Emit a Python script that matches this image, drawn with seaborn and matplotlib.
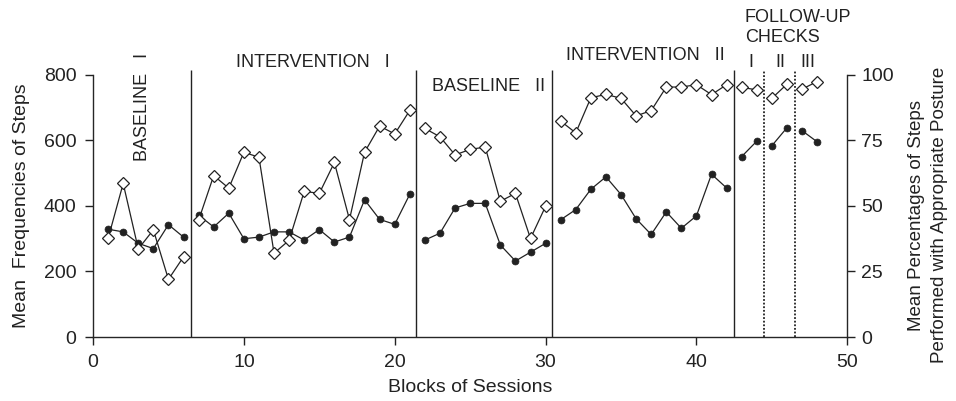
import pandas as pd
import matplotlib.pyplot as plt
import seaborn as sns

# phases and the blocks of sessions in each
phase_names = ["Baseline I", "Intervention I", "Baseline II", "Intervention II",
               "Follow-up I", "Follow-up II", "Follow-up III"]
phase_sessions = [
    [1, 2, 3, 4, 5, 6],
    [7, 8, 9, 10, 11, 12, 13, 14, 15, 16, 17, 18, 19, 20, 21],
    [22, 23, 24, 25, 26, 27, 28, 29, 30],
    [31, 32, 33, 34, 35, 36, 37, 38, 39, 40, 41, 42],
    [43, 44],
    [45, 46],
    [47, 48],
]

# mean frequencies of steps (filled circles, left axis)
steps = [
    [329, 321, 286, 270, 343, 305],
    [372, 336, 378, 300, 305, 321, 321, 296, 328, 290, 305, 419, 359, 344, 436],
    [296, 317, 394, 408, 408, 281, 232, 259, 286],
    [358, 389, 451, 489, 435, 361, 313, 382, 332, 370, 497, 455],
    [551, 598],
    [584, 639],
    [630, 596],
]

# mean percentage with appropriate posture (open diamonds, right axis)
posture = [
    [37.6, 58.6, 33.6, 40.9, 22.0, 30.6],
    [44.6, 61.6, 56.8, 70.5, 68.6, 32.0, 36.9, 55.6, 54.8, 66.6, 44.8, 70.5, 80.5, 77.5, 86.5],
    [79.6, 76.4, 69.5, 71.6, 72.5, 51.8, 54.8, 37.6, 49.9],
    [82.4, 77.9, 91.3, 92.6, 91.1, 84.4, 86.4, 95.4, 95.4, 96.3, 92.5, 96.3],
    [95.3, 94.3],
    [91.1, 96.5],
    [94.6, 97.5],
]

# phase change lines
solid_lines = [6.5, 21.4, 30.4, 42.5]
dotted_lines = [44.5, 46.5]

rows = []
for name, xs, st, po in zip(phase_names, phase_sessions, steps, posture):
    for x, s, p in zip(xs, st, po):
        rows.append({"session": x, "phase": name, "steps": s, "posture": p})
df = pd.DataFrame(rows)

sns.set_style("ticks")
plt.rcParams['font.family'] = ['Liberation Sans', 'DejaVu Sans']
plt.rcParams['axes.linewidth'] = 1.0

fig = plt.figure(figsize=(9.56, 4.01), dpi=100)
ax = fig.add_axes([0.0973, 0.1596, 0.789, 0.6534])
ax2 = ax.twinx()

sns.lineplot(data=df, x="session", y="steps", units="phase", estimator=None,
             color="#222222", marker="o", markersize=5, mec="#222222", mew=0.5,
             lw=0.9, ax=ax, legend=False)
sns.lineplot(data=df, x="session", y="posture", units="phase", estimator=None,
             color="#222222", marker="D", markersize=6, mfc="white", mec="#222222",
             mew=0.9, lw=0.9, ax=ax2, legend=False)

ax.vlines(solid_lines, 0, 815, colors="#222222", lw=1.0, clip_on=False)
ax.vlines(dotted_lines, 0, 815, colors="#222222", lw=1.3, linestyles=(0, (1, 1)), clip_on=False)

ax.set_xlim(0, 50)
ax.set_ylim(0, 800)
ax2.set_ylim(0, 100)
ax.set_xticks([0, 10, 20, 30, 40, 50])
ax.set_yticks([0, 200, 400, 600, 800])
ax2.set_yticks([0, 25, 50, 75, 100])

for a in (ax, ax2):
    a.spines['top'].set_visible(False)
    a.tick_params(direction='out', length=6, width=1, labelsize=14, pad=6, colors="#222222")
ax.spines['right'].set_visible(False)
ax2.spines['left'].set_visible(False)
ax2.spines['bottom'].set_visible(False)
ax2.tick_params(axis='y', pad=4)

ax.set_xlabel("Blocks of Sessions", fontsize=14, labelpad=6, color="#222222")
ax.set_ylabel("Mean  Frequencies of Steps", fontsize=14, labelpad=10, color="#222222")
ax2.set_ylabel("Mean Percentages of Steps\nPerformed with Appropriate Posture",
               fontsize=13.5, color="#222222", rotation=90, va="center",
               linespacing=1.4)
ax2.yaxis.set_label_coords(1.107, 0.465)

txt = dict(fontsize=13, color="#222222", ha="center", va="center")
ax.text(3.25, 702, "BASELINE   I", rotation=90, **txt)
ax.text(14.6, 837, "INTERVENTION   I", **txt)
ax.text(26.2, 766, "BASELINE   II", **txt)
ax.text(36.6, 861, "INTERVENTION   II", **txt)
ax.text(43.2, 945, "FOLLOW-UP\nCHECKS", fontsize=13, color="#222222", ha="left",
        va="center", linespacing=1.2)
ax.text(43.6, 837, "I", **txt)
ax.text(45.56, 837, "II", **txt)
ax.text(47.4, 837, "III", **txt)

fig.savefig("out.png", dpi=100)
